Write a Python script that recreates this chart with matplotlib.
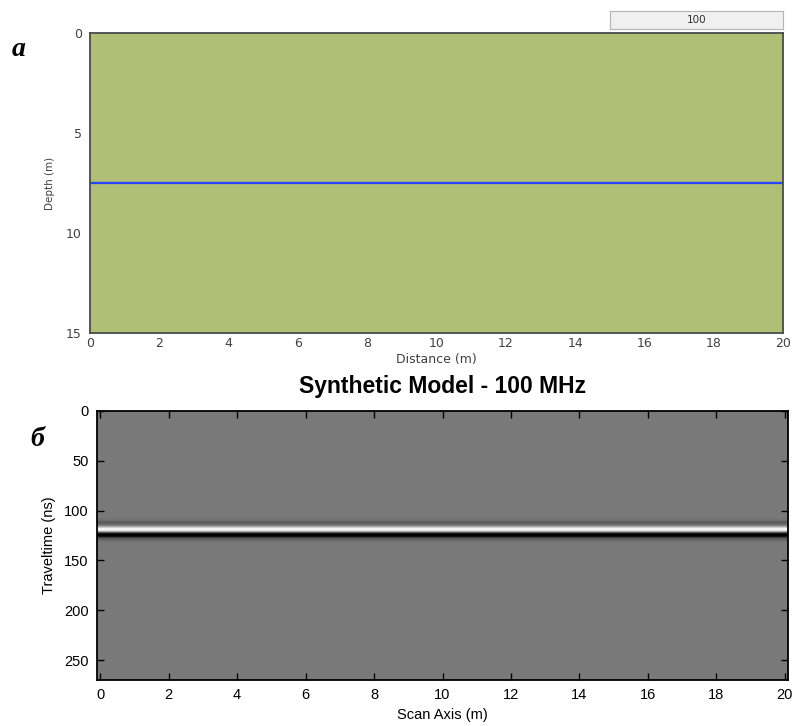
import matplotlib
matplotlib.use("Agg")
import matplotlib.pyplot as plt
import numpy as np

# ---- data ----
distance_range = [0, 20]          # m
depth_range = [0, 15]             # m
layer_depth = 7.5                 # m (reflector)
frequency_label = "100"
title = "Synthetic Model - 100 MHz"

scan_range = [-0.09, 20.09]       # m (trace positions)
time_max = 270                    # ns
# reflection wavelet amplitudes (ns, amplitude)
trace_times = [0, 106, 108, 110, 111, 112, 113, 114, 115, 116, 117, 118, 119, 120, 121,
               122, 123, 124, 125, 126, 127, 128, 130, 132, 270]
trace_amps  = [0, 0.0, -0.05, -0.12, -0.2, -0.25, -0.2, -0.1, 0.1, 0.35, 0.7, 1.0, 1.0, 0.85, 0.4,
               -0.3, -0.8, -1.0, -1.0, -0.85, -0.5, -0.25, -0.08, 0.0, 0]

x_ticks_top = [0, 2, 4, 6, 8, 10, 12, 14, 16, 18, 20]
y_ticks_top = [0, 5, 10, 15]
x_ticks_bot = [0, 2, 4, 6, 8, 10, 12, 14, 16, 18, 20]
y_ticks_bot = [0, 50, 100, 150, 200, 250]

plt.rcParams['font.family'] = ['Liberation Sans', 'DejaVu Sans']

fig = plt.figure(figsize=(7.95, 7.26), dpi=100)

# ---- top panel: model ----
ax1 = fig.add_axes([90/795, 1-333/726, 693/795, 300/726])
ax1.set_facecolor('#b1be75')
ax1.plot(distance_range, [layer_depth, layer_depth], color='#2444ff', lw=1.6)
ax1.set_xlim(distance_range)
ax1.set_ylim(depth_range[1], depth_range[0])
ax1.set_xticks(x_ticks_top)
ax1.set_yticks(y_ticks_top)
small = ['DejaVu Sans']
ax1.tick_params(length=0, labelsize=9, labelcolor='#404040', pad=3)
ax1.tick_params(axis='y', pad=6)
for lab in ax1.get_xticklabels() + ax1.get_yticklabels():
    lab.set_family(small)
for s in ax1.spines.values():
    s.set_color('#4a4a4a')
    s.set_linewidth(1.3)
ax1.set_xlabel('Distance (m)', fontsize=9, color='#404040', labelpad=2, family=small)
ax1.set_ylabel('Depth (m)', fontsize=7.5, color='#404040', labelpad=8, family=small)

# frequency box
axb = fig.add_axes([610/795, 1-29/726, 173/795, 18/726])
axb.set_facecolor('#f0f0f0')
axb.set_xticks([]); axb.set_yticks([])
for s in axb.spines.values():
    s.set_color('#b4b4b4'); s.set_linewidth(0.8)
axb.text(0.5, 0.5, frequency_label, ha='center', va='center', fontsize=7.5,
         color='#303030', transform=axb.transAxes, family=small)

# ---- bottom panel: radargram ----
ax2 = fig.add_axes([97/795, 1-680/726, 691/795, 269/726])
Z = np.array([trace_amps, trace_amps]).T
ax2.pcolormesh(scan_range, trace_times, Z, shading='nearest', cmap='gray',
               vmin=-1.0, vmax=1.1)
ax2.set_xlim(scan_range)
ax2.set_ylim(time_max, 0)
ax2.set_xticks(x_ticks_bot)
ax2.set_yticks(y_ticks_bot)
ax2.tick_params(direction='in', length=5, width=1, top=True, right=True,
                labelsize=10.5, pad=6)
for s in ax2.spines.values():
    s.set_linewidth(1.3)
ax2.set_xlabel('Scan Axis (m)', fontsize=10.5, labelpad=4)
ax2.set_ylabel('Traveltime (ns)', fontsize=10.5, labelpad=6)
ax2.set_title(title, fontsize=16.5, fontweight='bold', pad=13)

# panel letters
fig.text(12/795, 1-50/726, 'a', fontsize=20, fontweight='bold', fontstyle='italic',
         family=['Liberation Serif', 'DejaVu Serif'], va='center', ha='left')
fig.text(30/795, 1-440/726, 'б', fontsize=20, fontweight='bold', fontstyle='italic',
         family=['Liberation Serif', 'DejaVu Serif'], va='center', ha='left')

fig.savefig('out.png', dpi=100)
